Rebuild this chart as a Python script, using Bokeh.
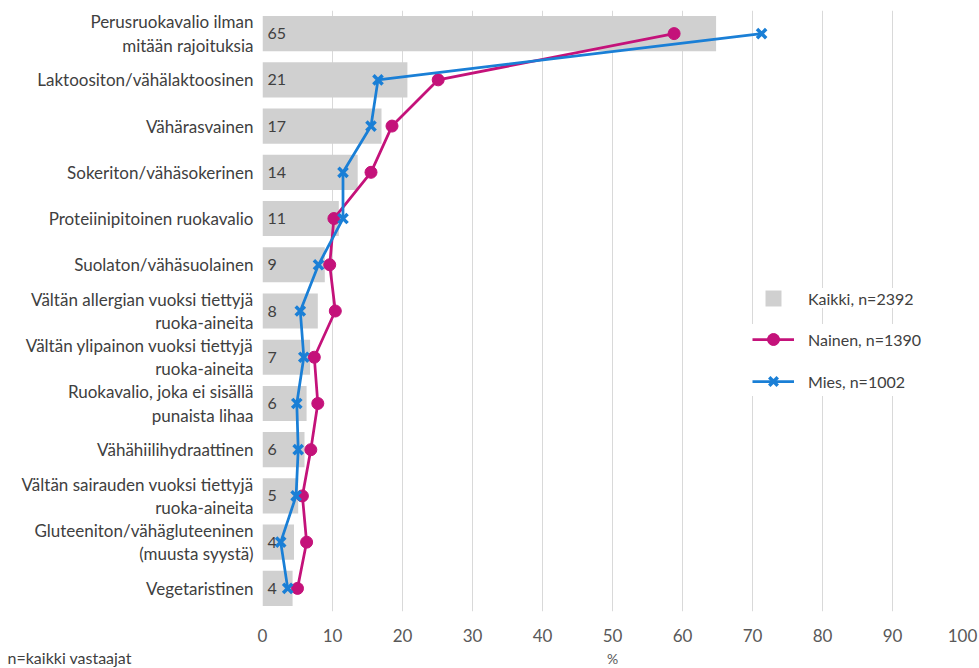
from bokeh.plotting import figure
from bokeh.models import FactorRange, Range1d, FixedTicker, Legend, LegendItem, Title, ColumnDataSource
from bokeh.embed import file_html
from bokeh.resources import INLINE
from bokeh.core.properties import value

categories = [
    "Perusruokavalio ilman\nmitään rajoituksia",
    "Laktoositon/vähälaktoosinen",
    "Vähärasvainen",
    "Sokeriton/vähäsokerinen",
    "Proteiinipitoinen ruokavalio",
    "Suolaton/vähäsuolainen",
    "Vältän allergian vuoksi tiettyjä\nruoka-aineita",
    "Vältän ylipainon vuoksi tiettyjä\nruoka-aineita",
    "Ruokavalio, joka ei sisällä\npunaista lihaa",
    "Vähähiilihydraattinen",
    "Vältän sairauden vuoksi tiettyjä\nruoka-aineita",
    "Gluteeniton/vähägluteeninen\n(muusta syystä)",
    "Vegetaristinen",
]
kaikki = [64.8, 20.7, 17.0, 13.6, 10.9, 8.9, 7.9, 6.8, 6.3, 6.0, 5.1, 4.5, 4.3]
kaikki_labels = ["65", "21", "17", "14", "11", "9", "8", "7", "6", "6", "5", "4", "4"]
nainen = [58.8, 25.1, 18.5, 15.5, 10.2, 9.6, 10.4, 7.4, 7.9, 6.9, 5.7, 6.3, 5.0]
mies = [71.3, 16.5, 15.5, 11.5, 11.5, 8.0, 5.4, 5.9, 4.9, 5.1, 4.8, 2.6, 3.6]
x_ticks = [0, 10, 20, 30, 40, 50, 60, 70, 80, 90, 100]
series_names = ["Kaikki, n=2392", "Nainen, n=1390", "Mies, n=1002"]
footnote = "n=kaikki vastaajat"
x_title = "%"

FONT = "Lato"
GRAY_BAR = "#d0d0d0"
PINK = "#c4127a"
BLUE = "#1a7fd6"
TEXT = "#404040"

src = ColumnDataSource(dict(cat=categories, kaikki=kaikki, lab=kaikki_labels,
                            nainen=nainen, mies=mies, zero=[0] * len(categories)))

p = figure(width=979, height=668, output_backend="svg", toolbar_location=None,
           y_range=FactorRange(*reversed(categories), range_padding=0),
           x_range=Range1d(0, 100),
           min_border_left=262, min_border_right=17, min_border_top=10, min_border_bottom=57)
p.outline_line_color = None
p.background_fill_color = "white"
p.border_fill_color = "white"

bars = p.hbar(y="cat", right="kaikki", left=0, height=0.76, source=src,
              fill_color=GRAY_BAR, line_color=None)
p.text(x="zero", y="cat", text="lab", source=src, x_offset=5,
       text_baseline="middle", text_align="left",
       text_font=value(FONT), text_font_size="16px", text_color=TEXT)

ln_n = p.line(x="nainen", y="cat", source=src, line_color=PINK, line_width=2.75)
sc_n = p.scatter(x="nainen", y="cat", source=src, marker="circle", size=12,
                 fill_color=PINK, line_color=PINK)
ln_m = p.line(x="mies", y="cat", source=src, line_color=BLUE, line_width=2.75)
sc_m = p.scatter(x="mies", y="cat", source=src, marker="x", size=13,
                 line_color=BLUE, line_width=3.5)

# axes
p.xaxis.ticker = FixedTicker(ticks=x_ticks)
p.xaxis.axis_line_color = None
p.xaxis.major_tick_line_color = None
p.xaxis.minor_tick_line_color = None
p.xaxis.major_label_standoff = 11
p.xaxis.major_label_text_font = FONT
p.xaxis.major_label_text_font_size = "17px"
p.xaxis.major_label_text_color = "#595959"

p.yaxis.axis_line_color = None
p.yaxis.major_tick_line_color = None
p.yaxis.minor_tick_line_color = None
p.yaxis.major_label_standoff = 3
p.yaxis.major_label_text_font = FONT
p.yaxis.major_label_text_font_size = "17px"
p.yaxis.major_label_text_color = TEXT
p.yaxis.major_label_text_line_height = 1.12

p.ygrid.grid_line_color = None
p.xgrid.grid_line_color = "#d9d9d9"
p.xgrid.grid_line_width = 1
p.xgrid.ticker = FixedTicker(ticks=x_ticks)

# legends
leg1 = Legend(items=[LegendItem(label=series_names[0], renderers=[bars])],
              location=(501, 303), glyph_width=20, glyph_height=20, label_height=20,
              label_standoff=25, padding=15, margin=0, spacing=0,
              border_line_color=None, background_fill_color="white", background_fill_alpha=1,
              label_text_font=FONT, label_text_font_size="16px", label_text_color=TEXT)
leg2 = Legend(items=[LegendItem(label=series_names[1], renderers=[ln_n, sc_n]),
                     LegendItem(label=series_names[2], renderers=[ln_m, sc_m])],
              location=(490, 215), glyph_width=42, glyph_height=30, label_height=30,
              label_standoff=14, padding=10, margin=0, spacing=12,
              border_line_color=None, background_fill_color="white", background_fill_alpha=1,
              label_text_font=FONT, label_text_font_size="16px", label_text_color=TEXT)
p.add_layout(leg1, "center")
p.add_layout(leg2, "center")

p.add_layout(Title(text=footnote, align="left", offset=-255, vertical_align="bottom",
                   standoff=2, text_font=FONT, text_font_size="16px",
                   text_font_style="normal", text_color=TEXT), "below")
p.add_layout(Title(text=x_title, align="center", vertical_align="top",
                   standoff=-36, text_font=FONT, text_font_size="14px",
                   text_font_style="normal", text_color="#595959"), "below")

open("out.html", "w").write(file_html(p, INLINE))
